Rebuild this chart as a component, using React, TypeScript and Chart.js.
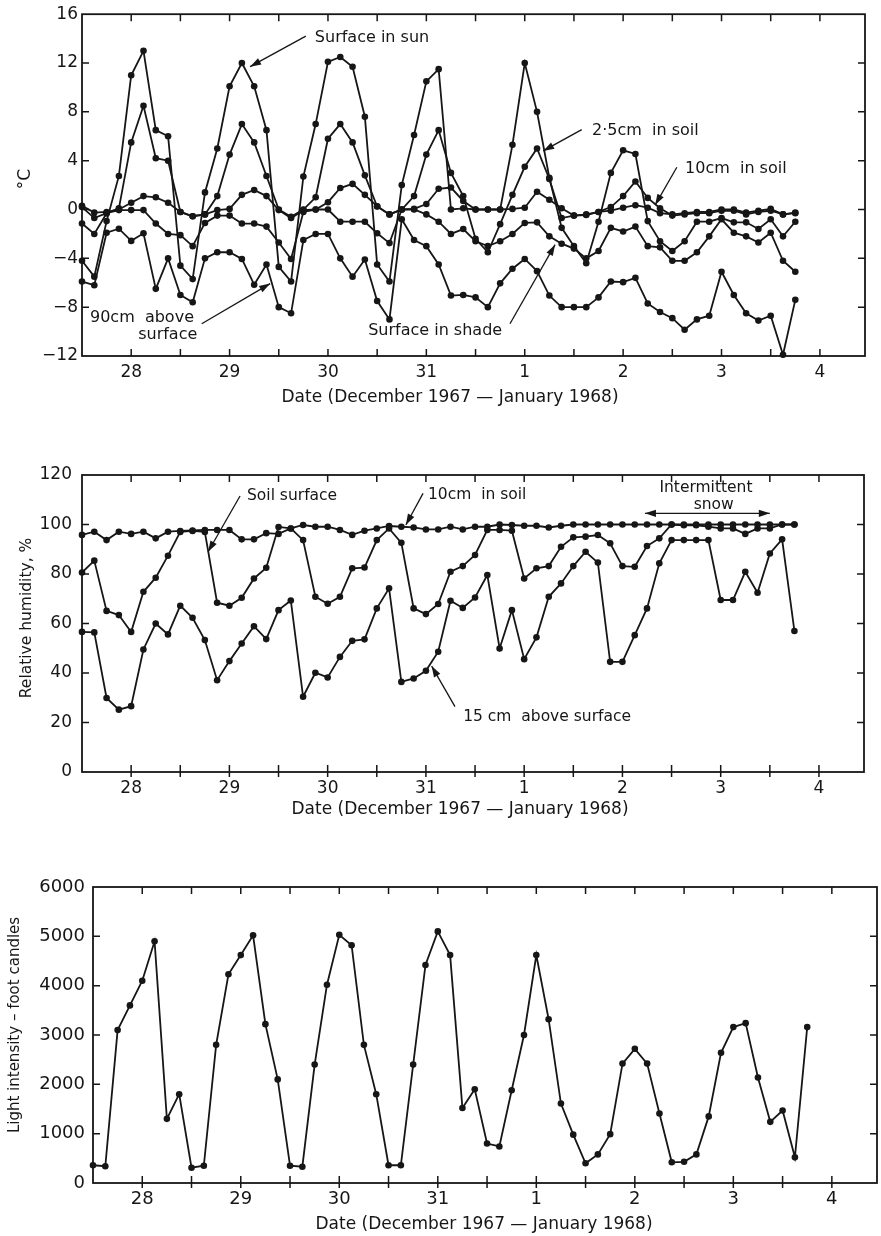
import React, { useEffect, useRef } from 'react';
import { Chart, registerables } from 'chart.js';

Chart.register(...registerables);

const INK = '#161616';
const FONT = '"DejaVu Sans", "Liberation Sans", sans-serif';

// Reading times: hours after midnight 27/28 December 1967 (3-hourly readings)
const readingHours = [
  0, 3, 6, 9, 12, 15, 18, 21,
  24, 27, 30, 33, 36, 39, 42, 45,
  48, 51, 54, 57, 60, 63, 66, 69,
  72, 75, 78, 81, 84, 87, 90, 93,
  96, 99, 102, 105, 108, 111, 114, 117,
  120, 123, 126, 129, 132, 135, 138, 141,
  144, 147, 150, 153, 156, 159, 162, 165,
  168, 171, 174,
];

// Day labels sit at noon of each day
const dayTickHours = [12, 36, 60, 84, 108, 132, 156, 180];
const dayTickLabels = ['28', '29', '30', '31', '1', '2', '3', '4'];
const halfDayTickHours = [0, 12, 24, 36, 48, 60, 72, 84, 96, 108, 120, 132, 144, 156, 168, 180];

// ---- Temperature, °C ----
const tempSurfaceSun = [
  -4.2, -5.5, -0.95, 2.75, 11.0, 13.0, 6.5, 6.0,
  -4.6, -5.7, 1.4, 5.0, 10.1, 12.0, 10.1, 6.5,
  -4.7, -5.9, 2.7, 7.0, 12.1, 12.5, 11.7, 7.6,
  -4.5, -5.9, 2.0, 6.1, 10.5, 11.5, 0.0, 0.1,
  0.0, 0.0, 0.0, 5.3, 12.0, 8.0, 2.6, -1.5,
  -3.0, -4.4, -1.0, 3.0, 4.85, 4.55, -0.95, -2.6,
  -3.4, -2.6, -1.0, -1.0, -0.7, -1.05, -1.05, -1.6,
  -0.8, -2.2, -1.0,
];
const temp2_5cmSoil = [
  0.2, -0.7, -0.3, 0.1, 5.5, 8.5, 4.2, 4.0,
  -0.2, -0.55, -0.4, 1.1, 4.5, 7.0, 5.5, 2.75,
  0.0, -0.6, 0.0, 1.0, 5.8, 7.0, 5.5, 2.8,
  0.25, -0.4, 0.0, 1.1, 4.5, 6.5, 3.0, 1.1,
  -2.4, -3.5, -1.2, 1.2, 3.5, 5.0, 2.5, -0.7,
  -0.5, -0.4, -0.2, 0.2, 1.1, 2.3, 0.95, 0.1,
  -0.5, -0.4, -0.3, -0.3, -0.1, -0.1, -0.4, -0.2,
  -0.1, -0.4, -0.3,
];
const temp10cmSoil = [
  0.3, -0.25, -0.2, 0.0, 0.55, 1.1, 1.0, 0.55,
  -0.2, -0.55, -0.4, -0.05, 0.05, 1.2, 1.6, 1.1,
  -0.05, -0.7, -0.05, 0.0, 0.6, 1.76, 2.1, 1.2,
  0.27, -0.4, 0.0, 0.05, 0.45, 1.7, 1.8, 0.7,
  0.0, 0.0, 0.0, 0.05, 0.15, 1.45, 0.8, 0.1,
  -0.5, -0.45, -0.2, -0.1, 0.15, 0.35, 0.15, -0.3,
  -0.4, -0.3, -0.2, -0.2, 0.0, 0.0, -0.25, -0.1,
  0.05, -0.4, -0.25,
];
const tempSurfaceShade = [
  -1.15, -2.0, -0.3, -0.05, -0.05, -0.05, -1.15, -2.0,
  -2.1, -3.0, -1.1, -0.5, -0.5, -1.15, -1.15, -1.4,
  -2.7, -4.05, -0.2, 0.0, 0.0, -1.0, -1.0, -1.0,
  -1.95, -2.75, 0.0, 0.0, -0.4, -1.0, -2.0, -1.6,
  -2.6, -3.0, -2.6, -2.0, -1.1, -1.05, -2.2, -2.8,
  -3.2, -4.0, -3.4, -1.5, -1.8, -1.4, -3.0, -3.1,
  -4.2, -4.2, -3.5, -2.2, -0.8, -1.9, -2.2, -2.7,
  -1.9, -4.2, -5.1,
];
const temp90cmAbove = [
  -5.9, -6.2, -1.9, -1.57, -2.57, -1.95, -6.5, -4.0,
  -7.0, -7.6, -4.0, -3.5, -3.5, -4.05, -6.16, -4.5,
  -8.0, -8.5, -2.5, -2.0, -2.0, -4.0, -5.5, -4.1,
  -7.5, -9.0, -0.8, -2.5, -3.0, -4.5, -7.05, -7.0,
  -7.2, -8.0, -6.05, -4.85, -4.05, -5.05, -7.05, -8.0,
  -8.0, -8.0, -7.2, -5.9, -5.95, -5.6, -7.7, -8.4,
  -8.9, -9.85, -9.0, -8.7, -5.1, -7.0, -8.5, -9.1,
  -8.7, -11.9, -7.4,
];

// ---- Relative humidity, % ----
const rh10cmSoil = [
  95.8, 97.1, 93.7, 97.1, 96.2, 97.1, 94.4, 97.1,
  97.4, 97.6, 97.8, 97.8, 97.8, 94.0, 94.0, 96.5,
  96.2, 98.4, 99.8, 99.1, 99.1, 97.8, 95.8, 97.5,
  98.4, 99.4, 99.1, 98.8, 98.0, 98.0, 99.1, 98.0,
  99.1, 99.1, 100, 99.8, 99.5, 99.5, 98.8, 99.5,
  100, 100, 100, 100, 100, 100, 100, 100,
  100, 100, 100, 100, 100, 100, 100, 100,
  100, 100, 100,
];
const rhSoilSurface = [
  80.6, 85.4, 65.1, 63.4, 56.6, 72.8, 78.5, 87.4,
  97.0, 97.4, 97.0, 68.4, 67.2, 70.4, 78.2, 82.5,
  99.0, 98.4, 93.7, 70.8, 68.0, 70.8, 82.3, 82.6,
  93.7, 98.4, 92.6, 66.1, 63.8, 67.9, 80.9, 83.2,
  87.7, 97.8, 97.8, 97.5, 78.2, 82.3, 83.2, 91.0,
  94.8, 95.1, 95.75, 92.4, 83.2, 82.9, 91.3, 94.4,
  100, 99.7, 99.7, 99.1, 98.4, 98.4, 96.2, 98.4,
  98.4, 100, 100,
];
const rh15cmAbove = [
  56.6, 56.4, 29.9, 25.2, 26.6, 49.5, 60.0, 55.6,
  67.2, 62.3, 53.3, 37.1, 44.8, 51.9, 58.9, 53.7,
  65.4, 69.3, 30.4, 40.1, 38.2, 46.5, 53.0, 53.6,
  66.1, 74.2, 36.4, 37.8, 40.9, 48.6, 69.2, 66.3,
  70.5, 79.6, 49.9, 65.4, 45.6, 54.4, 70.8, 76.2,
  83.2, 89.0, 84.6, 44.5, 44.5, 55.3, 66.1, 84.3,
  93.7, 93.7, 93.7, 93.7, 69.5, 69.5, 80.9, 72.4,
  88.3, 94.0, 57.0,
];

// ---- Light intensity, foot candles ----
const lightFootCandles = [
  360, 340, 3100, 3600, 4100, 4900, 1300, 1800,
  310, 350, 2800, 4230, 4620, 5020, 3220, 2100,
  350, 330, 2400, 4020, 5030, 4820, 2800, 1800,
  360, 360, 2400, 4420, 5100, 4620, 1520, 1900,
  800, 740, 1880, 3000, 4620, 3320, 1610, 980,
  400, 580, 990, 2420, 2720, 2420, 1410, 420,
  430, 580, 1350, 2640, 3160, 3240, 2140, 1240,
  1470, 520, 3160,
];

const xTitleText = 'Date (December 1967 \u2014 January 1968)';

type Note = { lines: string[]; x: number; y: number; align?: CanvasTextAlign };
type Arrow = { from: [number, number]; to: [number, number]; both?: boolean };

interface PanelSpec {
  top: number;
  height: number;
  padTop: number;
  padRight: number;
  yWidth: number;
  xHeight: number;
  yMin: number;
  yMax: number;
  yStep: number;
  yLabelPad: number;
  xLabelPad: number;
  tickFont: number;
  yFormat: (v: number) => string;
  series: number[][];
  xTitle: string;
  xTitlePos: [number, number];
  yTitle: string;
  yTitlePos: [number, number];
  titleFont: number;
  yTitleFont: number;
  notes: Note[];
  arrows: Arrow[];
  noteFont: number;
  outTicks: boolean;
}

const panels: PanelSpec[] = [
  {
    top: 0,
    height: 410,
    padTop: 10,
    padRight: 16,
    yWidth: 82,
    xHeight: 54,
    yMin: -12,
    yMax: 16,
    yStep: 4,
    yLabelPad: 4,
    xLabelPad: 6,
    tickFont: 17,
    yFormat: (v) => (v < 0 ? '\u2212' + Math.abs(v) : String(v)),
    series: [tempSurfaceSun, temp2_5cmSoil, temp10cmSoil, tempSurfaceShade, temp90cmAbove],
    xTitle: xTitleText,
    xTitlePos: [450, 398],
    yTitle: '\u00B0C',
    yTitlePos: [26, 179],
    titleFont: 17,
    yTitleFont: 17,
    noteFont: 16,
    outTicks: false,
    notes: [
      { lines: ['Surface in sun'], x: 56.8, y: 14.1 },
      { lines: ['2\u00B75cm  in soil'], x: 124.4, y: 6.45 },
      { lines: ['10cm  in soil'], x: 147.1, y: 3.37 },
      { lines: ['Surface in shade'], x: 69.8, y: -9.9 },
      { lines: ['90cm  above'], x: 1.95, y: -8.85 },
      { lines: ['surface'], x: 13.7, y: -10.3 },
    ],
    arrows: [
      { from: [54.6, 14.2], to: [41.0, 11.7] },
      { from: [121.9, 6.55], to: [112.5, 4.8] },
      { from: [145.1, 3.46], to: [139.8, 0.36] },
      { from: [104.4, -9.36], to: [115.4, -2.88] },
      { from: [29.2, -9.36], to: [45.9, -6.07] },
    ],
  },
  {
    top: 420,
    height: 420,
    padTop: 55,
    padRight: 17,
    yWidth: 82,
    xHeight: 68,
    yMin: 0,
    yMax: 120,
    yStep: 20,
    yLabelPad: 10,
    xLabelPad: 6,
    tickFont: 17,
    yFormat: (v) => String(v),
    series: [rh10cmSoil, rhSoilSurface, rh15cmAbove],
    xTitle: xTitleText,
    xTitlePos: [460, 810],
    yTitle: 'Relative humidity, %',
    yTitlePos: [27, 618],
    titleFont: 17,
    yTitleFont: 15.5,
    noteFont: 15.5,
    outTicks: true,
    notes: [
      { lines: ['Soil surface'], x: 40.3, y: 111.5 },
      { lines: ['10cm  in soil'], x: 84.5, y: 111.9 },
      { lines: ['15 cm  above surface'], x: 93.1, y: 22.2 },
      { lines: ['Intermittent'], x: 152.4, y: 114.7, align: 'center' },
      { lines: ['snow'], x: 154.3, y: 107.9, align: 'center' },
    ],
    arrows: [
      { from: [38.6, 111.5], to: [30.8, 89.0] },
      { from: [83.3, 112.6], to: [79.1, 99.8] },
      { from: [91.1, 26.4], to: [85.4, 42.8] },
      { from: [137.5, 104.5], to: [168.0, 104.5], both: true },
    ],
  },
  {
    top: 860,
    height: 376,
    padTop: 27,
    padRight: 4,
    yWidth: 93,
    xHeight: 53,
    yMin: 0,
    yMax: 6000,
    yStep: 1000,
    yLabelPad: 8,
    xLabelPad: 6,
    tickFont: 18,
    yFormat: (v) => String(v),
    series: [lightFootCandles],
    xTitle: xTitleText,
    xTitlePos: [484, 1225],
    yTitle: 'Light intensity \u2013 foot candles',
    yTitlePos: [15, 1025],
    titleFont: 17,
    yTitleFont: 15,
    noteFont: 15,
    outTicks: true,
    notes: [],
    arrows: [],
  },
];

function drawHead(ctx: CanvasRenderingContext2D, x1: number, y1: number, x2: number, y2: number) {
  const ang = Math.atan2(y2 - y1, x2 - x1);
  const len = 11;
  const w = 3.6;
  const bx = x2 - len * Math.cos(ang);
  const by = y2 - len * Math.sin(ang);
  ctx.beginPath();
  ctx.moveTo(x2, y2);
  ctx.lineTo(bx + w * Math.sin(ang), by - w * Math.cos(ang));
  ctx.lineTo(bx - w * Math.sin(ang), by + w * Math.cos(ang));
  ctx.closePath();
  ctx.fill();
}

function makeDecor(spec: PanelSpec) {
  return {
    id: 'decor',
    afterDraw(chart: any) {
      const { ctx, chartArea: a, scales } = chart;
      const xs = scales.x;
      const ys = scales.y;
      ctx.save();
      ctx.strokeStyle = INK;
      ctx.fillStyle = INK;
      ctx.lineWidth = 1.8;
      ctx.strokeRect(a.left, a.top, a.right - a.left, a.bottom - a.top);
      ctx.lineWidth = 1.5;
      ctx.beginPath();
      for (const h of halfDayTickHours) {
        const px = xs.getPixelForValue(h);
        if (px <= a.left + 1 || px >= a.right - 1) continue;
        ctx.moveTo(px, a.bottom + (spec.outTicks ? 5 : 0));
        ctx.lineTo(px, a.bottom - 7);
        ctx.moveTo(px, a.top);
        ctx.lineTo(px, a.top + 7);
      }
      for (const t of ys.ticks) {
        const py = ys.getPixelForValue(t.value);
        if (py <= a.top + 1 || py >= a.bottom - 1) continue;
        ctx.moveTo(a.left, py);
        ctx.lineTo(a.left + 7, py);
        ctx.moveTo(a.right, py);
        ctx.lineTo(a.right - 7, py);
      }
      ctx.stroke();

      // axis titles
      ctx.textBaseline = 'middle';
      ctx.textAlign = 'center';
      ctx.font = `${spec.titleFont}px ${FONT}`;
      ctx.fillText(spec.xTitle, spec.xTitlePos[0], spec.xTitlePos[1] - spec.top);
      ctx.save();
      ctx.translate(spec.yTitlePos[0], spec.yTitlePos[1] - spec.top);
      ctx.rotate(-Math.PI / 2);
      ctx.font = `${spec.yTitleFont}px ${FONT}`;
      ctx.fillText(spec.yTitle, 0, 0);
      ctx.restore();

      // annotations
      ctx.font = `${spec.noteFont}px ${FONT}`;
      for (const n of spec.notes) {
        ctx.textAlign = n.align || 'left';
        const px = xs.getPixelForValue(n.x);
        const py = ys.getPixelForValue(n.y);
        n.lines.forEach((ln, i) => ctx.fillText(ln, px, py + i * (spec.noteFont + 2)));
      }
      ctx.lineWidth = 1.3;
      for (const ar of spec.arrows) {
        const x1 = xs.getPixelForValue(ar.from[0]);
        const y1 = ys.getPixelForValue(ar.from[1]);
        const x2 = xs.getPixelForValue(ar.to[0]);
        const y2 = ys.getPixelForValue(ar.to[1]);
        ctx.beginPath();
        ctx.moveTo(x1, y1);
        ctx.lineTo(x2, y2);
        ctx.stroke();
        drawHead(ctx, x1, y1, x2, y2);
        if (ar.both) drawHead(ctx, x2, y2, x1, y1);
      }
      ctx.restore();
    },
  };
}

function buildConfig(spec: PanelSpec): any {
  const datasets = spec.series.map((vals) => ({
    data: vals.map((y, i) => ({ x: readingHours[i], y })),
    borderColor: INK,
    backgroundColor: INK,
    pointBackgroundColor: INK,
    pointBorderColor: INK,
    pointBorderWidth: 0,
    pointRadius: 3.3,
    borderWidth: 1.8,
    tension: 0,
    fill: false,
    clip: false,
  }));
  return {
    type: 'line',
    data: { datasets },
    plugins: [makeDecor(spec)],
    options: {
      responsive: false,
      maintainAspectRatio: false,
      animation: false,
      events: [],
      layout: { padding: { top: spec.padTop, right: spec.padRight, left: 0, bottom: 0 } },
      plugins: { legend: { display: false }, tooltip: { enabled: false } },
      scales: {
        x: {
          type: 'linear',
          min: 0,
          max: 191,
          grid: { display: false, drawTicks: false },
          border: { display: false },
          afterBuildTicks: (s: any) => {
            s.ticks = dayTickHours.map((v) => ({ value: v }));
          },
          afterFit: (s: any) => {
            s.height = spec.xHeight;
          },
          ticks: {
            autoSkip: false,
            maxRotation: 0,
            minRotation: 0,
            padding: spec.xLabelPad,
            color: INK,
            font: { size: spec.tickFont, family: FONT },
            callback: (_v: any, i: number) => dayTickLabels[i],
          },
        },
        y: {
          type: 'linear',
          min: spec.yMin,
          max: spec.yMax,
          grid: { display: false, drawTicks: false },
          border: { display: false },
          afterFit: (s: any) => {
            s.width = spec.yWidth;
          },
          ticks: {
            stepSize: spec.yStep,
            padding: spec.yLabelPad,
            color: INK,
            font: { size: spec.tickFont, family: FONT },
            callback: (v: any) => spec.yFormat(Number(v)),
          },
        },
      },
    },
  };
}

function Panel({ spec }: { spec: PanelSpec }) {
  const ref = useRef<HTMLCanvasElement>(null);
  useEffect(() => {
    if (!ref.current) return;
    const chart = new Chart(ref.current, buildConfig(spec));
    return () => chart.destroy();
  }, [spec]);
  return (
    <canvas
      ref={ref}
      width={881}
      height={spec.height}
      style={{ position: 'absolute', left: 0, top: spec.top, width: 881, height: spec.height }}
    />
  );
}

export default function App() {
  return (
    <div
      style={{
        position: 'absolute',
        left: 0,
        top: 0,
        width: 881,
        height: 1236,
        background: '#ffffff',
        overflow: 'hidden',
      }}
    >
      {panels.map((p, i) => (
        <Panel key={i} spec={p} />
      ))}
    </div>
  );
}
